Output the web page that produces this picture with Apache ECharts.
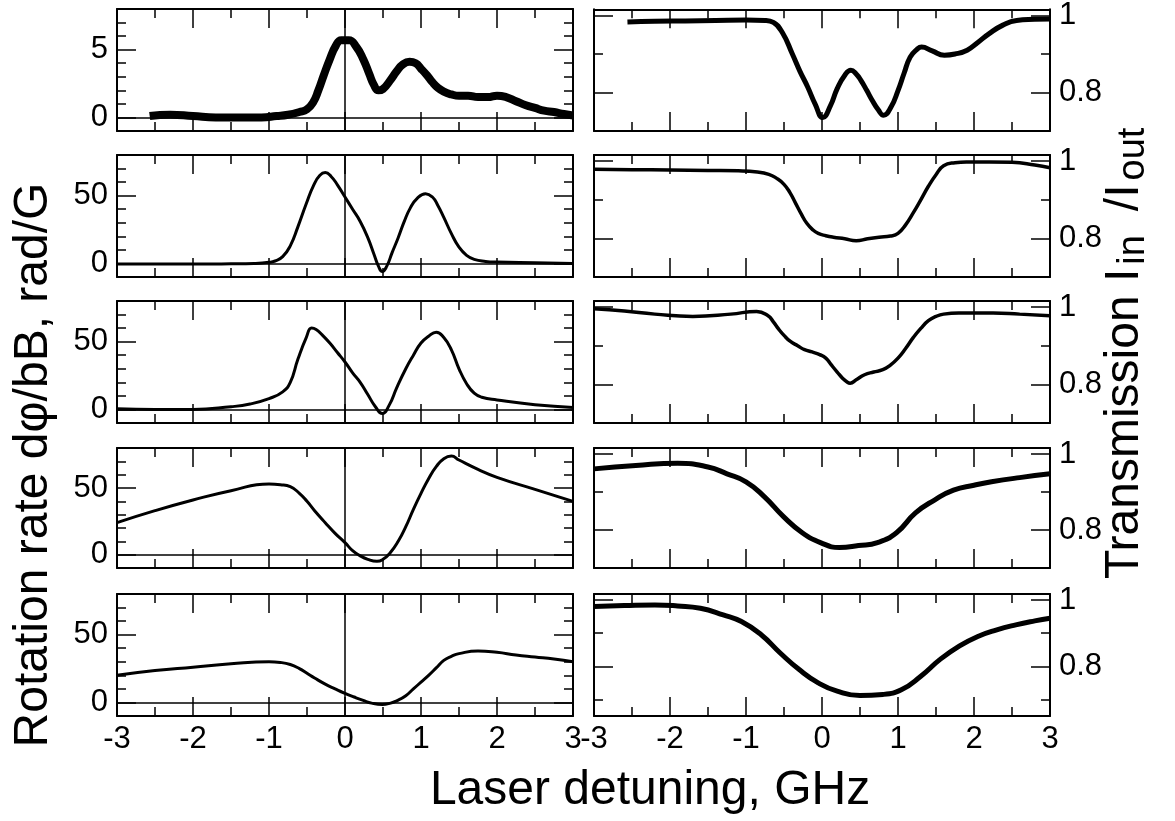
<!DOCTYPE html>
<html>
<head>
<meta charset="utf-8">
<script src="https://cdn.jsdelivr.net/npm/echarts@6/dist/echarts.min.js"></script>
<style>
html,body{margin:0;padding:0;background:#fff;}
#chart{width:1175px;height:821px;}
</style>
</head>
<body>
<div id="chart"></div>
<script>
// ---------- data ----------
// Left column: rotation rate dφ/dB (rad/G) vs laser detuning (GHz)
const rot1X = [-2.57,-2.3,-2.0,-1.7,-1.4,-1.1,-0.9,-0.75,-0.6,-0.5,-0.42,-0.35,-0.28,-0.2,-0.12,-0.05,0.05,0.15,0.24,0.32,0.38,0.44,0.5,0.59,0.68,0.76,0.85,0.93,1.0,1.08,1.15,1.22,1.3,1.4,1.5,1.62,1.75,1.88,2.0,2.12,2.25,2.38,2.5,2.62,2.75,2.88,3.0];
const rot1Y = [0.1,0.2,0.1,0.0,0.0,0.0,0.1,0.2,0.4,0.6,1.1,2.0,3.1,4.3,5.3,5.7,5.7,5.2,4.3,3.2,2.4,2.0,2.1,2.7,3.4,3.9,4.1,4.0,3.6,3.1,2.6,2.2,1.9,1.7,1.6,1.6,1.5,1.5,1.6,1.5,1.2,0.9,0.7,0.5,0.4,0.25,0.15];

const rot2X = [-3,-2.5,-2,-1.5,-1.2,-1.0,-0.92,-0.82,-0.72,-0.62,-0.51,-0.41,-0.33,-0.26,-0.18,-0.1,0,0.1,0.2,0.3,0.38,0.44,0.49,0.55,0.62,0.7,0.78,0.86,0.95,1.06,1.15,1.22,1.3,1.4,1.5,1.6,1.7,1.85,2.0,2.5,3];
const rot2Y = [-0.5,-0.5,-0.5,-0.3,0,0.8,1.8,5,13,27,44,58,65,67,64,58,49,40,31,19,7,-2,-6,-2,8,19,31,41,48,51.5,49,43,34,22,12,6,3,1.5,1,0.5,0];

const rot3X = [-3,-2.5,-2,-1.5,-1.25,-1.0,-0.82,-0.72,-0.62,-0.51,-0.44,-0.38,-0.3,-0.2,-0.1,0,0.1,0.2,0.3,0.4,0.49,0.58,0.68,0.8,0.9,1.0,1.1,1.2,1.3,1.4,1.5,1.6,1.7,1.8,2.0,2.5,3];
const rot3Y = [0.5,0,0,2,4,8,13,20,37,53,60,59,55,49,42,35,27,20,11,2,-3,3,16,30,40,49,54,57,53,44,30,19,12,9,7,3.5,1.5];

const rot4X = [-3,-2.5,-2,-1.5,-1.0,-0.85,-0.72,-0.6,-0.5,-0.4,-0.26,-0.13,0,0.1,0.19,0.3,0.42,0.5,0.59,0.7,0.8,0.9,1.0,1.1,1.2,1.3,1.4,1.5,1.75,2.0,2.5,3];
const rot4Y = [24,33,41,48,53,52.5,51,46,40,33,24,16,9,3,-0.5,-3.5,-5,-3.5,1,10,21,34,46,57,66,72,74,71,64,58,49,40];

const rot5X = [-3,-2.5,-2,-1.5,-1.0,-0.85,-0.72,-0.6,-0.5,-0.4,-0.26,-0.13,0,0.12,0.24,0.35,0.49,0.6,0.68,0.8,0.9,1.0,1.1,1.2,1.3,1.4,1.5,1.75,2.0,2.25,2.5,2.75,3];
const rot5Y = [20,23.5,26,28.5,30,29.5,28,25,21.5,18,13.5,10,6.7,4,1.5,-0.5,-1.5,-0.5,1.2,5,10,15,20,25.5,31,34,36,38,37,35,33.5,32,30];

// Right column: transmission I_in/I_out vs laser detuning (GHz)
const trans1X = [-2.56,-2.2,-1.8,-1.4,-1.0,-0.75,-0.64,-0.52,-0.39,-0.29,-0.19,-0.09,0.01,0.11,0.2,0.3,0.38,0.45,0.51,0.59,0.66,0.74,0.81,0.91,1.0,1.08,1.16,1.25,1.31,1.45,1.61,1.75,1.91,2.05,2.2,2.38,2.56,2.8,3.0];
const trans1Y = [0.983,0.985,0.986,0.987,0.988,0.987,0.982,0.955,0.9,0.855,0.815,0.77,0.735,0.765,0.81,0.845,0.858,0.848,0.832,0.805,0.78,0.755,0.741,0.763,0.805,0.85,0.892,0.912,0.918,0.908,0.897,0.9,0.91,0.93,0.953,0.975,0.987,0.99,0.991];

const trans2X = [-3,-2.5,-2,-1.5,-1.1,-0.85,-0.7,-0.6,-0.5,-0.42,-0.35,-0.27,-0.2,-0.12,-0.05,0.05,0.15,0.3,0.45,0.6,0.75,0.9,1.0,1.1,1.2,1.3,1.4,1.5,1.6,1.75,1.9,2.2,2.5,2.8,3];
const trans2Y = [0.979,0.978,0.977,0.976,0.975,0.972,0.966,0.956,0.94,0.918,0.892,0.862,0.839,0.822,0.813,0.807,0.803,0.799,0.794,0.799,0.803,0.806,0.813,0.835,0.866,0.9,0.935,0.965,0.988,0.996,0.998,0.998,0.997,0.99,0.983];

const trans3X = [-3,-2.6,-2.2,-1.7,-1.2,-0.86,-0.71,-0.64,-0.57,-0.5,-0.42,-0.32,-0.23,-0.13,-0.03,0.05,0.12,0.2,0.27,0.33,0.37,0.45,0.56,0.68,0.8,0.9,1.0,1.1,1.2,1.3,1.4,1.5,1.6,1.8,2.25,2.6,3];
const trans3Y = [0.996,0.99,0.982,0.976,0.982,0.989,0.978,0.962,0.943,0.927,0.912,0.9,0.89,0.884,0.877,0.868,0.851,0.832,0.816,0.806,0.803,0.812,0.825,0.832,0.838,0.85,0.868,0.893,0.921,0.945,0.965,0.976,0.982,0.985,0.985,0.982,0.978];

const trans4X = [-3,-2.45,-1.9,-1.5,-1.25,-1.0,-0.76,-0.51,-0.26,-0.02,0.23,0.48,0.73,0.98,1.23,1.48,1.73,2.0,2.23,2.6,3];
const trans4Y = [0.961,0.97,0.976,0.966,0.948,0.927,0.888,0.836,0.793,0.767,0.754,0.759,0.767,0.793,0.845,0.879,0.905,0.918,0.927,0.938,0.948];

const trans5X = [-3,-2.6,-2.2,-1.9,-1.6,-1.3,-1.06,-0.8,-0.55,-0.3,-0.05,0.2,0.5,0.8,1.05,1.3,1.55,1.8,2.05,2.3,2.55,2.8,3];
const trans5Y = [0.98,0.983,0.985,0.982,0.975,0.955,0.935,0.895,0.84,0.79,0.75,0.725,0.712,0.715,0.73,0.77,0.82,0.86,0.89,0.91,0.925,0.937,0.945];

// Axis ranges and tick values
const detuningRange = [-3, 3];
const rotRangeTop = [-1, 8];
const rotRange = [-10, 80];
const transRange = [0.7, 1.016];
const transRangeBottom = [0.65, 1.018];
const rotMajorTop = [0, 5];
const rotMinorTop = [1, 2, 3, 4, 6, 7];
const rotMajor = [0, 50];
const rotMinor = [10, 20, 30, 40, 60, 70];
const transMajor = [0.8, 1];
const transMinor = [0.9];
const transMinorBottom = [0.7, 0.9];

const xTitle = 'Laser detuning, GHz';
const yTitleLeft = 'Rotation rate d\u03C6/bB, rad/G';

const rotX = [rot1X, rot2X, rot3X, rot4X, rot5X];
const rotY = [rot1Y, rot2Y, rot3Y, rot4Y, rot5Y];
const transX = [trans1X, trans2X, trans3X, trans4X, trans5X];
const transY = [trans1Y, trans2Y, trans3Y, trans4Y, trans5Y];

// ---------- layout ----------
const FONT = "'Liberation Sans', Arial, Helvetica, sans-serif";
const rowTop = [9, 155, 301, 448, 594];
const rowH = [122, 122, 122, 120, 122];
const colLeft = [117, 594];
const colW = 456;
const rotLineW = [8, 3, 3, 3, 3];
const transLineW = [5, 3.5, 3.5, 5, 5];

const black = '#000';
const grids = [], xAxes = [], yAxes = [], series = [];

function xAxisCfg(gi, pos, showLabel) {
  return {
    type: 'value', gridIndex: gi, position: pos,
    min: detuningRange[0], max: detuningRange[1], interval: 1,
    axisLine: {show: true, onZero: false, lineStyle: {color: black, width: 2}},
    axisTick: {show: true, inside: true, length: 19, lineStyle: {color: black, width: 1.5}},
    minorTick: {show: true, splitNumber: 2, length: 9, lineStyle: {color: black, width: 1.5}},
    splitLine: {show: false}, minorSplitLine: {show: false},
    axisLabel: {show: showLabel, color: black, fontSize: 31, fontFamily: FONT, margin: 8}
  };
}
function yAxisCfg(gi, pos, range, ticks, len, line, showLabel) {
  return {
    type: 'value', gridIndex: gi, position: pos,
    min: range[0], max: range[1],
    axisLine: {show: line, onZero: false, lineStyle: {color: black, width: 2}},
    axisTick: {show: true, inside: true, length: len, customValues: ticks, lineStyle: {color: black, width: 1.5}},
    axisLabel: {show: showLabel, customValues: ticks, color: black, fontSize: 31, fontFamily: FONT, margin: 9},
    splitLine: {show: false}
  };
}

for (let r = 0; r < 5; r++) {
  for (let c = 0; c < 2; c++) {
    const gi = grids.length;
    grids.push({left: colLeft[c], top: rowTop[r], width: colW, height: rowH[r]});
    const xi = xAxes.length;
    xAxes.push(xAxisCfg(gi, 'bottom', r === 4));
    xAxes.push(xAxisCfg(gi, 'top', false));
    let range, major, minor;
    if (c === 0) {
      range = r === 0 ? rotRangeTop : rotRange;
      major = r === 0 ? rotMajorTop : rotMajor;
      minor = r === 0 ? rotMinorTop : rotMinor;
    } else {
      range = r === 4 ? transRangeBottom : transRange;
      major = transMajor;
      minor = r === 4 ? transMinorBottom : transMinor;
    }
    const yi = yAxes.length;
    yAxes.push(yAxisCfg(gi, 'left', range, major, 19, true, c === 0));
    yAxes.push(yAxisCfg(gi, 'left', range, minor, 9, false, false));
    yAxes.push(yAxisCfg(gi, 'right', range, major, 19, true, c === 1));
    yAxes.push(yAxisCfg(gi, 'right', range, minor, 9, false, false));

    const xs = c === 0 ? rotX[r] : transX[r];
    const ys = c === 0 ? rotY[r] : transY[r];
    const s = {
      type: 'line', xAxisIndex: xi, yAxisIndex: yi,
      data: xs.map((x, k) => [x, ys[k]]),
      showSymbol: false, symbol: 'none', smooth: 0.5,
      lineStyle: {color: black, width: c === 0 ? rotLineW[r] : transLineW[r], join: 'round'},
      silent: true, animation: false
    };
    if (c === 0) {
      s.markLine = {
        silent: true, symbol: ['none', 'none'], label: {show: false},
        lineStyle: {color: black, width: 1.5, type: 'solid'},
        animation: false,
        data: [{xAxis: 0}, {yAxis: 0}]
      };
    }
    series.push(s);
  }
}

const option = {
  backgroundColor: '#fff',
  animation: false,
  grid: grids,
  xAxis: xAxes,
  yAxis: yAxes,
  series: series,
  graphic: [
    {type: 'text', x: 650, y: 791, silent: true,
     style: {text: xTitle, fontSize: 48, fontFamily: FONT, fill: black, align: 'center', verticalAlign: 'middle'}},
    {type: 'text', x: 34, y: 465, rotation: Math.PI / 2, silent: true,
     style: {text: yTitleLeft, fontSize: 48, fontFamily: FONT, fill: black, align: 'center', verticalAlign: 'middle'}},
    {type: 'text', x: 1127, y: 579, rotation: Math.PI / 2, silent: true,
     style: {text: '{m|Transmission I}{s|in}{g| }{m|/I}{s|out}', align: 'left', verticalAlign: 'middle', fill: black,
       rich: {
         m: {fontSize: 48, fontFamily: FONT, fill: black, lineHeight: 52, verticalAlign: 'top'},
         g: {fontSize: 48, fontFamily: FONT, fill: black, lineHeight: 52, verticalAlign: 'top', width: 22},
         s: {fontSize: 38, fontFamily: FONT, fill: black, lineHeight: 38, padding: [26, 2, 0, 4], verticalAlign: 'bottom'}
       }}}
  ]
};

const chart = echarts.init(document.getElementById('chart'), null, {renderer: 'canvas'});
chart.setOption(option);
</script>
</body>
</html>
